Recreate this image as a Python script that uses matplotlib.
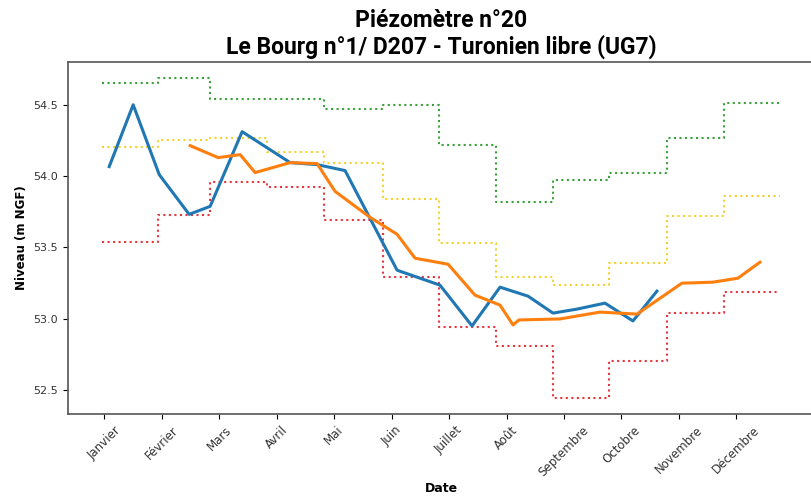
import matplotlib.pyplot as plt

# Axe des x : index du mois (0 = janvier)
mois = ['Janvier', 'Février', 'Mars', 'Avril', 'Mai', 'Juin', 'Juillet',
        'Août', 'Septembre', 'Octobre', 'Novembre', 'Décembre']

# Limites des paliers mensuels (début de chaque mois + fin de décembre)
bornes = [-0.035, 0.94, 1.84, 2.835, 3.83, 4.85, 5.83, 6.82, 7.81, 8.78, 9.79, 10.78, 11.76]

# Enveloppes mensuelles (m NGF)
niv_haut = [54.654, 54.689, 54.54, 54.54, 54.47, 54.5, 54.22, 53.82, 53.975, 54.02, 54.27, 54.51]
niv_moyen = [54.206, 54.255, 54.27, 54.17, 54.09, 53.84, 53.53, 53.29, 53.234, 53.39, 53.72, 53.86]
niv_bas = [53.535, 53.724, 53.955, 53.92, 53.69, 53.29, 52.94, 52.81, 52.44, 52.70, 53.04, 53.185]

# Série 1 (bleu)
x_serie1 = [0.087, 0.504, 0.957, 1.478, 1.843, 2.4, 3.235, 3.704, 4.191, 5.096,
            5.843, 6.4, 6.887, 7.374, 7.809, 8.226, 8.713, 9.2, 9.617]
y_serie1 = [54.066, 54.5, 54.01, 53.731, 53.787, 54.311, 54.094, 54.08, 54.038, 53.339,
            53.234, 52.948, 53.22, 53.157, 53.038, 53.066, 53.108, 52.983, 53.192]

# Série 2 (orange)
x_serie2 = [1.496, 1.983, 2.365, 2.626, 3.235, 3.704, 4.017, 4.626, 5.096, 5.409, 5.983,
            6.452, 6.887, 7.113, 7.217, 7.93, 8.626, 9.27, 10.052, 10.591, 11.026, 11.409]
y_serie2 = [54.213, 54.129, 54.15, 54.024, 54.094, 54.087, 53.892, 53.71, 53.591, 53.423, 53.381,
            53.164, 53.094, 52.955, 52.99, 52.997, 53.045, 53.031, 53.248, 53.255, 53.283, 53.395]

fig = plt.figure(figsize=(8.12, 4.98), dpi=100)
ax = fig.add_axes([68 / 812, 84 / 498, 746 / 812, 352 / 498])

# Paliers pointillés
ax.step(bornes, niv_haut + [niv_haut[-1]], where='post', color='#3aa03a',
        linestyle=':', linewidth=1.5)
ax.step(bornes, niv_moyen + [niv_moyen[-1]], where='post', color='#f2d22e',
        linestyle=':', linewidth=1.5)
ax.step(bornes, niv_bas + [niv_bas[-1]], where='post', color='#e8343c',
        linestyle=':', linewidth=1.5)

ax.plot(x_serie1, y_serie1, color='#1f77b4', linewidth=2.2)
ax.plot(x_serie2, y_serie2, color='#ff7f0e', linewidth=2.2)

ax.set_xlim(-0.63, 12.35)
ax.set_ylim(52.33, 54.80)
ax.set_xticks(range(len(mois)))
ax.set_xticklabels(mois, rotation=45, fontsize=8.5, color='#333333')
ax.set_yticks([52.5, 53.0, 53.5, 54.0, 54.5])
ax.tick_params(axis='y', labelsize=8, labelcolor='#333333')
for s in ax.spines.values():
    s.set_color('#555555')
    s.set_linewidth(1.2)

ax.set_xlabel('Date', fontsize=9, fontweight='bold', labelpad=2)
ax.set_ylabel('Niveau (m NGF)', fontsize=8.5, fontweight='bold')
ax.set_title('Piézomètre n°20\nLe Bourg n°1/ D207 - Turonien libre (UG7)',
             fontsize=16.5, fontweight='bold', family='Roboto', linespacing=1.15,
             pad=6, x=(441 - 68) / 746)

fig.savefig('out.png', dpi=100)
